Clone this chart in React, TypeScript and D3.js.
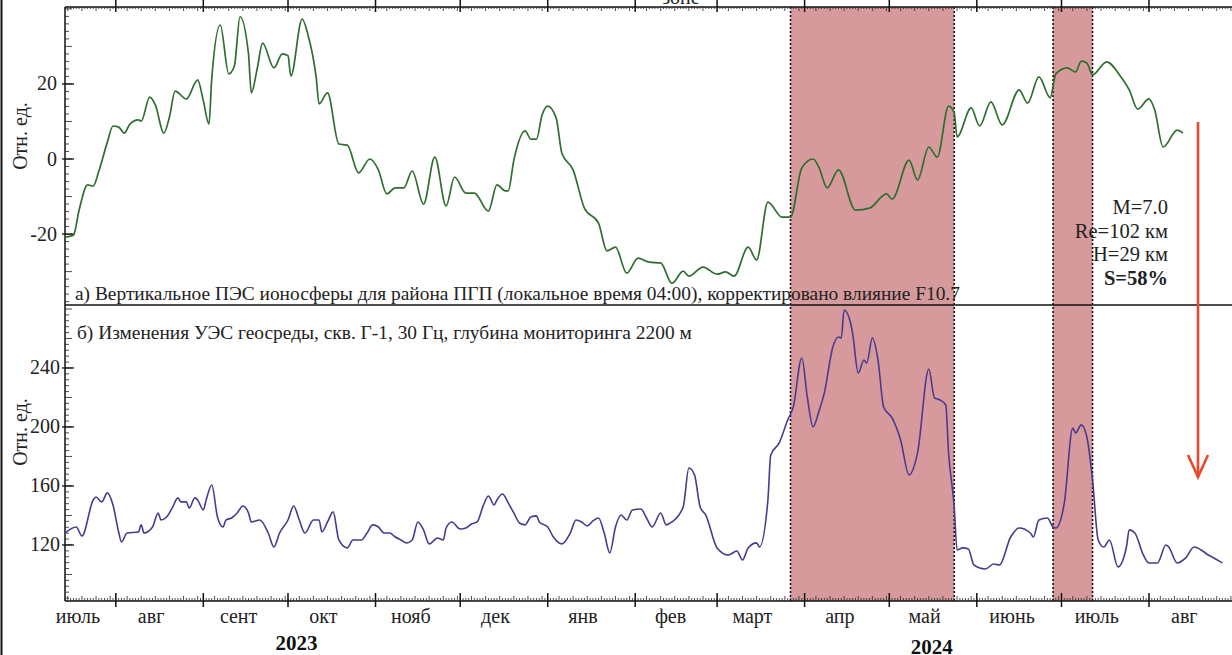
import React from "react";
import * as d3 from "d3";

// days since 2023-07-14 and values
const START = Date.UTC(2023, 6, 14);

// а) vertical TEC, rel. units
const tecDay = [0, 3, 5, 8, 10, 12, 15, 17, 19, 21, 23, 26, 27, 30, 32, 35, 37, 39, 43, 47, 49, 51, 52, 55, 58, 60, 62, 65, 66, 68, 70, 74, 77, 79, 80, 84, 86, 89, 90, 93, 97, 100, 104, 108, 111, 114, 117, 120, 123, 127, 131, 135, 138, 142, 145, 150, 153, 156, 157, 159, 163, 165, 167, 169, 171, 174, 176, 180, 184, 189, 192, 195, 199, 203, 207, 211, 215, 219, 221, 226, 231, 234, 237, 242, 245, 249, 254, 257, 261, 265, 267, 270, 274, 280, 285, 291, 293, 299, 302, 306, 309, 313, 315, 316, 321, 324, 328, 332, 338, 341, 345, 349, 351, 355, 358, 360, 362, 364, 369, 374, 377, 380, 384, 386, 389, 394, 396];
const tecVal = [-20.8, -20.3, -13.6, -6.9, -7.2, -3.2, 4.5, 8.8, 8.5, 6.9, 9.3, 10.4, 10.1, 16.5, 14.4, 6.9, 11.2, 18.1, 16.0, 21.1, 15.5, 9.3, 21.6, 35.7, 22.7, 24.8, 37.9, 28.0, 17.6, 23.7, 30.9, 24.3, 28.0, 27.5, 22.1, 37.3, 33.3, 21.6, 14.7, 17.6, 4.0, 3.7, -3.7, 0, -2.9, -9.3, -7.7, -7.7, -3.2, -12.0, 0.5, -12.5, -4.8, -9.1, -9.1, -13.9, -6.9, -8.5, -8.5, -0.3, 7.5, 5.3, 5.3, 11.7, 14.1, 10.9, 1.6, -2.9, -13.1, -17.1, -24.5, -23.5, -30.4, -26.4, -27.5, -27.7, -33.1, -29.9, -31.2, -28.8, -30.7, -30.1, -31.2, -23.5, -26.9, -11.5, -15.5, -15.5, -2.4, 0, -2.1, -7.7, -2.9, -13.6, -13.1, -9.3, -10.7, -0.3, -5.6, 3.2, 0.5, 14.1, 12.3, 5.9, 13.6, 8.8, 15.2, 9.1, 18.4, 14.9, 21.9, 16.3, 22.7, 24.3, 23.2, 26.1, 25.6, 22.4, 25.9, 21.9, 18.4, 13.3, 16.0, 13.1, 3.2, 7.7, 6.9];

// б) resistivity changes, rel. units
const resDay = [0, 4, 6, 10, 11, 13, 15, 17, 19, 20, 22, 26, 27, 28, 31, 33, 34, 36, 38, 40, 41, 43, 44, 46, 47, 49, 50, 52, 54, 56, 57, 59, 61, 63, 65, 66, 69, 72, 74, 76, 79, 81, 83, 85, 88, 90, 91, 93, 95, 97, 100, 102, 105, 107, 109, 111, 113, 115, 117, 119, 121, 123, 125, 127, 129, 132, 134, 135, 137, 140, 142, 144, 146, 148, 150, 152, 153, 155, 157, 159, 161, 163, 165, 167, 168, 171, 173, 176, 179, 181, 183, 185, 187, 189, 191, 193, 195, 197, 199, 201, 204, 206, 208, 211, 213, 215, 219, 221, 223, 225, 227, 231, 235, 238, 240, 242, 245, 246, 249, 250, 253, 256, 258, 261, 263, 265, 267, 269, 272, 274, 275, 276, 278, 279, 281, 283, 284, 286, 288, 290, 293, 296, 299, 302, 306, 308, 310, 312, 313, 315, 316, 318, 320, 322, 326, 329, 331, 335, 338, 342, 343, 345, 348, 350, 351, 354, 357, 358, 360, 362, 364, 366, 368, 370, 373, 376, 377, 379, 382, 384, 387, 390, 391, 394, 397, 400, 403, 405, 407, 410];
const resVal = [128.1, 132.2, 126.1, 150.5, 152.5, 149.2, 155.3, 147.1, 128.8, 122.0, 128.1, 128.8, 133.6, 128.1, 132.2, 141.7, 137.0, 139.0, 145.1, 151.9, 149.2, 149.2, 145.1, 151.9, 150.5, 143.7, 150.5, 160.7, 139.0, 132.2, 136.9, 138.3, 141.7, 146.4, 141.7, 135.6, 136.9, 128.1, 118.6, 128.1, 136.9, 146.4, 136.9, 128.1, 136.9, 136.9, 128.8, 135.6, 142.4, 123.4, 118.0, 123.4, 123.4, 128.1, 133.6, 132.2, 128.1, 128.1, 125.4, 123.4, 121.4, 123.4, 135.6, 130.2, 120.7, 124.7, 123.4, 131.5, 135.6, 130.8, 131.5, 134.2, 135.6, 145.8, 153.2, 147.1, 150.5, 154.6, 148.5, 141.7, 134.9, 133.6, 139.0, 139.7, 135.6, 132.2, 125.4, 120.7, 128.1, 136.9, 135.6, 132.9, 136.3, 138.3, 128.1, 114.6, 132.2, 140.3, 136.9, 143.7, 144.4, 138.3, 132.2, 141.7, 133.6, 135.6, 145.8, 172.2, 167.5, 145.8, 140.3, 118.0, 113.2, 115.9, 109.8, 118.0, 121.4, 118.6, 150.5, 181.0, 189.2, 204.7, 213.6, 246.8, 219.7, 200.0, 210.2, 223.1, 254.2, 261.0, 260.3, 279.3, 272.5, 263.7, 236.6, 245.4, 243.4, 260.3, 245.4, 213.6, 206.1, 191.2, 167.5, 182.4, 239.3, 219.7, 218.3, 214.9, 182.4, 145.8, 116.6, 118.0, 117.3, 106.4, 103.7, 107.1, 106.4, 125.4, 131.5, 128.1, 125.4, 136.9, 138.3, 132.2, 131.5, 148.5, 199.3, 195.9, 201.4, 193.2, 164.1, 123.4, 118.6, 123.4, 105.1, 118.6, 130.2, 128.1, 113.2, 107.8, 107.8, 120.0, 118.6, 107.8, 111.2, 118.6, 115.9, 113.2, 111.2, 107.8];

// shaded intervals (start, end)
const bands = [
  ["2024-03-27", "2024-05-24"],
  ["2024-06-28", "2024-07-12"],
];

const monthNames = ["янв", "фев", "март", "апр", "май", "июнь", "июль", "авг", "сент", "окт", "нояб", "дек"];
const yearLabels = [
  { text: "2023", date: "2023-10-04" },
  { text: "2024", date: "2024-05-16" },
];
const tecTicks = [-20, 0, 20];
const resTicks = [120, 160, 200, 240];
const quakeNotes = ["M=7.0", "Re=102 км", "H=29 км", "S=58%"];

const W = 1232;
const H = 655;
const L = 65;
const TOP = 7;
const MID = 305;
const BOT = 601;
const FONT = "'Liberation Serif', 'Times New Roman', serif";

export default function App() {
  const day = (d: number) => new Date(START + d * 864e5);
  const x = d3.scaleUtc().domain([new Date(START), new Date(Date.UTC(2024, 7, 1))]).range([L, 1149]);
  const yTop = d3.scaleLinear().domain([-38.9, 40.5]).range([MID, TOP]);
  const yBot = d3.scaleLinear().domain([82, 282.7]).range([BOT, MID]);

  const tecLine = d3.line<number>().x((_, i) => x(day(tecDay[i]))).y((v) => yTop(v)).curve(d3.curveMonotoneX);
  const resLine = d3.line<number>().x((_, i) => x(day(resDay[i]))).y((v) => yBot(v)).curve(d3.curveMonotoneX);

  const days = d3.utcDay.range(new Date(START), new Date(Date.UTC(2024, 8, 10)));
  const months = d3.utcMonth.range(new Date(Date.UTC(2023, 7, 1)), new Date(Date.UTC(2024, 8, 10)));
  const labelMonths = d3.utcMonth.range(new Date(Date.UTC(2023, 6, 1)), new Date(Date.UTC(2024, 7, 2)));

  const minorTop = d3.range(-38, 41, 2);
  const minorBot = d3.range(84, 283, 4);

  return (
    <div style={{ position: "fixed", left: 0, top: 0, background: "#fff" }}>
      <svg width={W} height={H} style={{ display: "block" }} fontFamily={FONT}>
        <rect width={W} height={H} fill="#fff" />

        {/* shaded intervals */}
        {bands.map(([a, b], i) => {
          const x0 = x(new Date(a)), x1 = x(new Date(b));
          return (
            <g key={i}>
              <rect x={x0} y={TOP} width={x1 - x0} height={BOT - TOP} fill="#d69a9c" />
              <line x1={x0} x2={x0} y1={TOP} y2={BOT} stroke="#111" strokeWidth={1.6} strokeDasharray="2,2" />
              <line x1={x1} x2={x1} y1={TOP} y2={BOT} stroke="#111" strokeWidth={1.6} strokeDasharray="2,2" />
            </g>
          );
        })}

        {/* frame */}
        <line x1={1.5} x2={1.5} y1={0} y2={H} stroke="#111" strokeWidth={2} />
        <line x1={L} x2={W} y1={TOP} y2={TOP} stroke="#111" strokeWidth={1.5} />
        <line x1={L} x2={W} y1={MID} y2={MID} stroke="#111" strokeWidth={1.5} />
        <line x1={L} x2={W} y1={BOT} y2={BOT} stroke="#111" strokeWidth={1.5} />
        <line x1={L} x2={L} y1={TOP} y2={BOT} stroke="#111" strokeWidth={1.5} />

        {/* x ticks, top and bottom */}
        {days.map((d, i) => {
          const xi = x(d);
          if (xi < L || xi > W) return null;
          const len = d.getUTCDate() % 5 === 0 ? 5 : 3;
          return (
            <g key={i} stroke="#222" strokeWidth={0.8}>
              <line x1={xi} x2={xi} y1={BOT} y2={BOT - len} />
              <line x1={xi} x2={xi} y1={TOP} y2={TOP + len - 1} />
            </g>
          );
        })}
        {months.map((m, i) => {
          const xi = x(m);
          if (xi > W) return null;
          return (
            <g key={i} stroke="#111" strokeWidth={1.5}>
              <line x1={xi} x2={xi} y1={BOT - 8} y2={BOT + 6} />
              <line x1={xi} x2={xi} y1={0} y2={TOP + 5} />
            </g>
          );
        })}
        {labelMonths.map((m, i) => {
          const t = Math.max(+m + 12.5 * 864e5, START + 4.6 * 864e5);
          return (
            <text key={i} x={x(new Date(t))} y={623} fontSize={20} textAnchor="middle" fill="#222">
              {monthNames[m.getUTCMonth()]}
            </text>
          );
        })}
        {yearLabels.map((yl) => (
          <text key={yl.text} x={x(new Date(yl.date))} y={yl.text === "2023" ? 650 : 654} fontSize={21} fontWeight="bold" textAnchor="middle" fill="#111">
            {yl.text}
          </text>
        ))}

        {/* y ticks top */}
        {minorTop.map((v) => (
          <line key={v} x1={L} x2={L + (v % 10 === 0 ? 7 : 4)} y1={yTop(v)} y2={yTop(v)} stroke="#222" strokeWidth={0.8} />
        ))}
        {tecTicks.map((v) => (
          <g key={v}>
            <line x1={L - 3} x2={L + 9} y1={yTop(v)} y2={yTop(v)} stroke="#111" strokeWidth={1.3} />
            <text x={57} y={yTop(v) + 6.5} fontSize={20} textAnchor="end" fill="#222">{v}</text>
          </g>
        ))}
        {/* y ticks bottom */}
        {minorBot.map((v) => (
          <line key={v} x1={L} x2={L + (v % 20 === 0 ? 7 : 4)} y1={yBot(v)} y2={yBot(v)} stroke="#222" strokeWidth={0.8} />
        ))}
        {resTicks.map((v) => (
          <g key={v}>
            <line x1={L - 3} x2={L + 9} y1={yBot(v)} y2={yBot(v)} stroke="#111" strokeWidth={1.3} />
            <text x={60} y={yBot(v) + 6.5} fontSize={20} textAnchor="end" fill="#222">{v}</text>
          </g>
        ))}

        <text transform="translate(27,136) rotate(-90)" fontSize={20} textAnchor="middle" fill="#222">Отн. ед.</text>
        <text transform="translate(27,432) rotate(-90)" fontSize={20} textAnchor="middle" fill="#222">Отн. ед.</text>

        {/* curves */}
        <path d={tecLine(tecVal) || ""} fill="none" stroke="#2f6e2f" strokeWidth={1.7} />
        <path d={resLine(resVal) || ""} fill="none" stroke="#4a3a8e" strokeWidth={1.6} />

        {/* panel captions */}
        <text x={75} y={300} fontSize={19.4} fill="#222">
          а) Вертикальное ПЭС ионосферы для района ПГП (локальное время 04:00), корректировано влияние F10.7
        </text>
        <text x={77} y={339} fontSize={19.4} fill="#222">
          б) Изменения УЭС геосреды, скв. Г-1, 30 Гц, глубина мониторинга 2200 м
        </text>
        <text x={681} y={4} fontSize={20} textAnchor="middle" fill="#222">зоне</text>

        {/* earthquake notes */}
        {quakeNotes.map((s, i) => (
          <text key={s} x={1168} y={214 + i * 23.5} fontSize={20.5} textAnchor="end" fill="#222" fontWeight={i === 3 ? "bold" : "normal"}>
            {s}
          </text>
        ))}

        {/* red arrow */}
        <g stroke="#e8492e" strokeWidth={2.6} fill="none">
          <line x1={1198} x2={1198} y1={122} y2={476} />
          <polyline points="1188,455 1198,477 1208,455" />
        </g>
      </svg>
    </div>
  );
}
